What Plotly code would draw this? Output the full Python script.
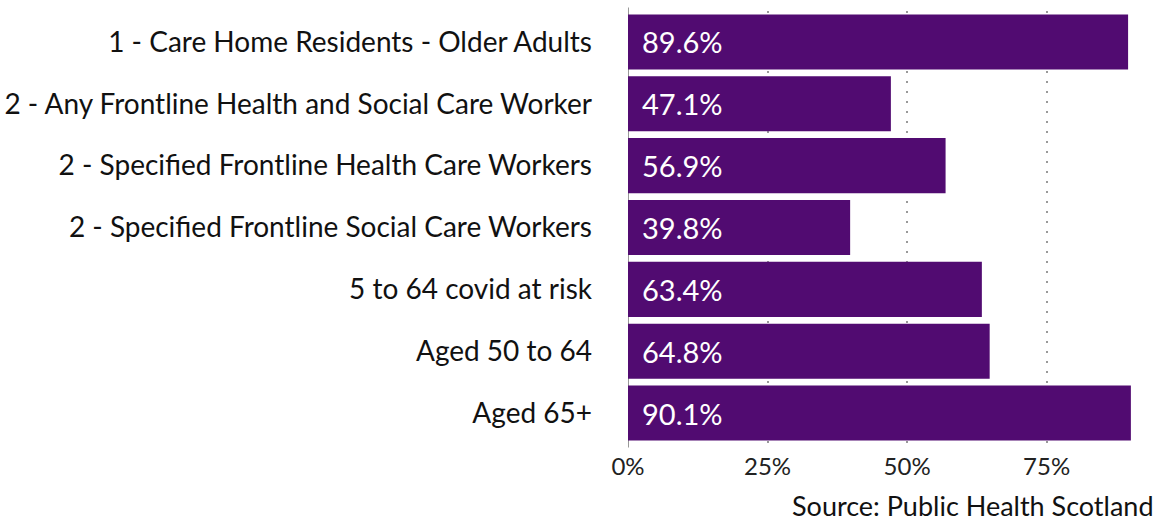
import plotly.graph_objects as go

categories = [
    "1 - Care Home Residents - Older Adults",
    "2 - Any Frontline Health and Social Care Worker",
    "2 - Specified Frontline Health Care Workers",
    "2 - Specified Frontline Social Care Workers",
    "5 to 64 covid at risk",
    "Aged 50 to 64",
    "Aged 65+",
]
uptake_pct = [89.6, 47.1, 56.9, 39.8, 63.4, 64.8, 90.1]
tick_values = [0, 25, 50, 75]
tick_labels = ["0%", "25%", "50%", "75%"]

FONT = "Lato"
BAR_COLOUR = "#510B71"

fig = go.Figure(
    go.Bar(
        x=uptake_pct,
        y=categories,
        orientation="h",
        marker=dict(color=BAR_COLOUR, line=dict(width=0)),
        hoverinfo="skip",
    )
)

# value labels sitting at the start of each bar
for cat, val in zip(categories, uptake_pct):
    fig.add_annotation(
        x=0, y=cat, text=f"{val:.1f}%", showarrow=False,
        xanchor="left", xshift=12, yanchor="middle",
        font=dict(family=FONT, size=29, color="white"),
    )

fig.add_annotation(
    xref="paper", yref="paper", x=1, y=-0.1, xanchor="right", yanchor="top",
    text="Source: Public Health Scotland", showarrow=False, xshift=0,
    font=dict(family=FONT, size=27, color="#111111"),
)

fig.update_layout(
    width=1165, height=521,
    margin=dict(l=628, r=9, t=11, b=77, autoexpand=False),
    paper_bgcolor="white", plot_bgcolor="white",
    bargap=0.11,
    showlegend=False,
    font=dict(family=FONT, color="#111111"),
)
fig.update_xaxes(
    range=[0, 94.6], tickvals=tick_values, ticktext=tick_labels,
    showgrid=True, gridcolor="#999999", gridwidth=1.5, griddash="2px,8px",
    zeroline=False, showline=False, ticks="", automargin=False,
    ticklabelstandoff=6,
    tickfont=dict(family=FONT, size=24, color="#222222"),
)
fig.update_yaxes(
    categoryorder="array", categoryarray=categories[::-1],
    showgrid=False, zeroline=False, showline=False, ticks="", automargin=False,
    ticklabelstandoff=35,
    tickfont=dict(family=FONT, size=28, color="#111111"),
)
# vertical axis line at 0%
fig.add_shape(
    type="line", xref="x", yref="paper", x0=0, x1=0, y0=-0.008, y1=1.008,
    line=dict(color="#999999", width=2), layer="below",
)

fig.write_html("out.html")
